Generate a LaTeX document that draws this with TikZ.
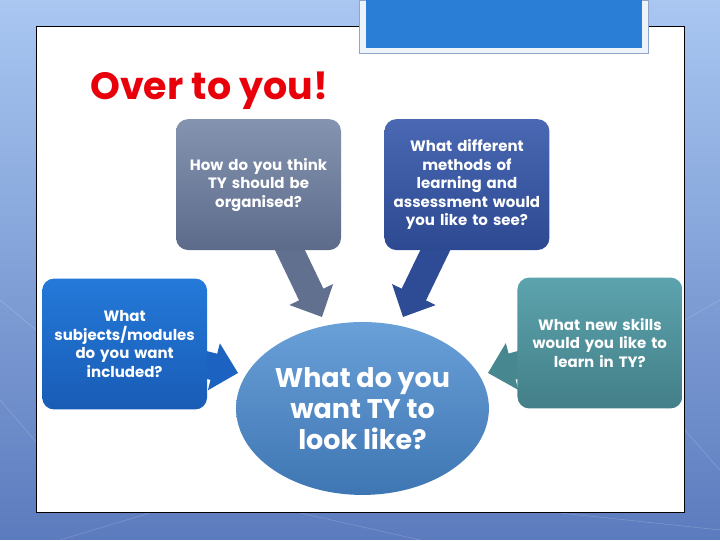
\documentclass[tikz,border=0pt]{standalone}
\usepackage{fontspec}
\setmainfont{Poppins}
\usepackage{xcolor}
\usepackage{tikz}
\usetikzlibrary{arrows.meta,shapes.geometric,positioning,backgrounds}
\pgfdeclarelayer{page}
\pgfsetlayers{page,background,main}

\definecolor{slideTop}{HTML}{A9C7F1}
\definecolor{slideBottom}{HTML}{5B7BBE}
\definecolor{titleRed}{HTML}{E8000B}
\definecolor{bannerBlue}{HTML}{2B7ED6}
\definecolor{bannerFrame}{HTML}{EEF3FA}
\definecolor{bannerEdge}{HTML}{8EA4C8}
\definecolor{greyTop}{HTML}{8494B0}
\definecolor{greyBottom}{HTML}{5C6B8A}
\definecolor{greyArrow}{HTML}{62708F}
\definecolor{navyTop}{HTML}{4A68B3}
\definecolor{navyBottom}{HTML}{2C4991}
\definecolor{navyArrow}{HTML}{2E4C96}
\definecolor{blueTop}{HTML}{2479D9}
\definecolor{blueBottom}{HTML}{195CB6}
\definecolor{blueArrow}{HTML}{1C62C0}
\definecolor{tealTop}{HTML}{5CA3AD}
\definecolor{tealBottom}{HTML}{437F88}
\definecolor{tealArrow}{HTML}{468790}
\definecolor{ovalTop}{HTML}{6AA0D8}
\definecolor{ovalBottom}{HTML}{3E76B3}

\begin{document}
\begin{tikzpicture}[x=1pt, y=-1pt,
    question/.style 2 args={rectangle, rounded corners=12pt, minimum width=165pt, minimum height=131pt, text width=160pt, align=center, inner sep=0pt, text=white, font=\fontsize{15}{18.5}\selectfont\bfseries, top color=#1, bottom color=#2},
    goal/.style={ellipse, minimum width=253pt, minimum height=173pt, inner sep=0pt, align=center, text=white, font=\fontsize{27}{31}\selectfont\bfseries, top color=ovalTop, bottom color=ovalBottom},
    pointer/.style={line width=27pt, draw=#1, -{Triangle[length=25pt, width=47pt]}}
]

% Slide background and white panel
\begin{pgfonlayer}{page}
\fill[top color=slideTop, bottom color=slideBottom] (0,0) rectangle (720,540);
\draw[white, opacity=0.25] (0,400) -- (60,470) (0,300) -- (36,330) (685,320) -- (720,300) (685,430) -- (720,470);
\draw[white, opacity=0.25] (60,540) -- (150,513) (300,513) -- (420,540) (560,513) -- (720,530);
\fill[white, draw=black, line width=1pt] (36,26) rectangle (685,513);
\end{pgfonlayer}

% Banner at the top
\node[rectangle, draw=bannerEdge, fill=bannerFrame, minimum width=289pt, minimum height=53pt] (banner) at (503.5,26.5) {};
\fill[bannerBlue] (366,0) rectangle (642,48);

% Title
\node[text=titleRed, font=\fontsize{38}{38}\selectfont\bfseries, anchor=base west, inner sep=0pt] (title) at (90,99) {Over to you!};

% Questions
\node[question={greyTop}{greyBottom}] (organise) at (258.5,184.5) {How do you think\\TY should be\\organised?};
\node[question={navyTop}{navyBottom}] (methods) at (467,184.5) {What different\\methods of\\learning and\\assessment would\\you like to see?};
\node[question={blueTop}{blueBottom}] (subjects) at (124.5,344) {What\\subjects/modules\\do you want\\included?};
\node[question={tealTop}{tealBottom}] (skills) at (600,343) {What new skills\\would you like to\\learn in TY?};

% Centre
\node[goal] (look) at (362.5,408.5) {What do you\\want TY to\\look like?};

% Arrow tips
\coordinate (organiseTip) at (322,317);
\coordinate (methodsTip) at (403,317);
\coordinate (subjectsTip) at (238,373);
\coordinate (skillsTip) at (488,373);

% Arrows into the centre
\begin{scope}[on background layer]
\draw[pointer=greyArrow] (organise.center) -- (organiseTip);
\draw[pointer=navyArrow] (methods.center) -- (methodsTip);
\draw[pointer=blueArrow] (subjects.center) -- (subjectsTip);
\draw[pointer=tealArrow] (skills.center) -- (skillsTip);
\end{scope}

\end{tikzpicture}
\end{document}
